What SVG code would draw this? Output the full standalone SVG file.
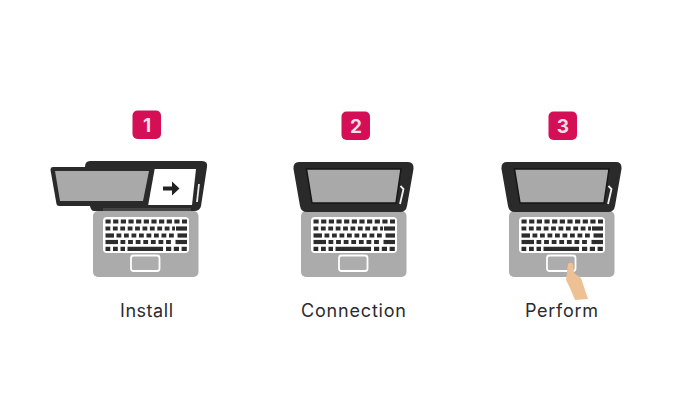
<svg xmlns="http://www.w3.org/2000/svg" xmlns:xlink="http://www.w3.org/1999/xlink" width="680" height="400" viewBox="0 0 680 400">
<style>
.lab{font-family:Inter,"Noto Sans",sans-serif;font-size:18px;fill:#2b2b2f;text-anchor:middle}
.num{font-family:Inter,"Liberation Sans",sans-serif;font-size:19px;font-weight:700;fill:#f6dfe6;text-anchor:middle}
.badge{fill:#d40f55}
.lid{fill:#2a2a2a}
.scr{fill:#a9a9a9;stroke:#161616;stroke-width:1.500}
.base{fill:#ababab}
.k{stroke:#2c2c2c;stroke-width:4.200;fill:none}
</style>
<defs>
<g id="lower">
<rect class="base" x="301" y="211" width="105.500" height="66" rx="5"/>
<rect x="311" y="217" width="86" height="36" rx="4" fill="#fff"/>
<line class="k" x1="313.500" y1="221.500" x2="395" y2="221.500" stroke-dasharray="5.200 2.450"/>
<path class="k" d="M313.500 228.500H383" stroke-dasharray="4.800 2.600"/><path class="k" d="M384 228.500H395"/>
<path class="k" d="M313.500 235.500H322"/><path class="k" d="M324.500 235.500H383" stroke-dasharray="4.800 2.700"/><path class="k" d="M385.500 235.500H395"/>
<path class="k" d="M313.500 242H326"/><path class="k" d="M328.500 242H381" stroke-dasharray="4.800 2.800"/><path class="k" d="M383.500 242H395"/>
<path class="k" d="M313.500 248.800H333" stroke-dasharray="4.800 2.700"/><path class="k" d="M335.500 248.800H371"/><path class="k" d="M374 248.800H395" stroke-dasharray="5.200 2.600"/>
<rect x="339" y="255.500" width="28.500" height="15.500" rx="2.500" fill="#adadad" stroke="#fff" stroke-width="1.800"/>
</g>
<path id="lidshape" class="lid" d="M299 162H408Q414 162 413.500 169L407 206Q406 212 400 212H307Q301 212 300 206L293.500 169Q293 162 299 162Z"/>
<path id="pen" d="M400.500 186L403.500 189L400 204" fill="none" stroke="#f2f2f2" stroke-width="1.800"/>
</defs>

<g id="connectors"/>

<g id="step-1">
<rect class="badge" x="132.500" y="110.500" width="28.500" height="28.500" rx="5"/>
<text class="num" x="147" y="131.500">1</text>
<use xlink:href="#lower" href="#lower" x="-208"/>
<path class="lid" d="M90 161H202Q208 161 207 167L201 206Q200 211 194 211H94Q91 211 90 206L85 167Q85 161 90 161Z"/>
<path d="M153 169H196L192 205H147Z" fill="#fff"/>
<path d="M163 186.500H172V181.500L179.500 188.500L172 195.500V190.500H163Z" fill="#222"/>
<path d="M199 184L197 202" stroke="#eee" stroke-width="1.800" fill="none"/>
<path class="lid" d="M53 167H155L148 206H59Q57 206 56.500 204L50.500 170Q50.500 167 53 167Z"/>
<path d="M55 171H149L143 201H60Z" fill="#a9a9a9"/>
<rect x="103" y="208" width="88" height="3" fill="#444"/>
<text class="lab" x="146.500" y="317" textLength="53" lengthAdjust="spacing">Install</text>
</g>

<g id="step-2">
<rect class="badge" x="341.500" y="111.500" width="28.500" height="28.500" rx="5"/>
<text class="num" x="356" y="132.500">2</text>
<use xlink:href="#lower" href="#lower"/>
<use xlink:href="#lidshape" href="#lidshape"/>
<path class="scr" d="M306.500 169H401L396 203H312Z"/>
<use xlink:href="#pen" href="#pen"/>
<text class="lab" x="353.500" y="317" textLength="105" lengthAdjust="spacing">Connection</text>
</g>

<g id="step-3">
<rect class="badge" x="548.500" y="111.500" width="28.500" height="28.500" rx="5"/>
<text class="num" x="563" y="132.500">3</text>
<use xlink:href="#lower" href="#lower" x="208"/>
<use xlink:href="#lidshape" href="#lidshape" x="208"/>
<path class="scr" d="M514.500 169H609L604 203H520Z"/>
<use xlink:href="#pen" href="#pen" x="208"/>
<path d="M568 264Q571 261 573 264L574 273L581 278L588 299L575 300L570 288L566 280Z" fill="#eec195"/>
<text class="lab" x="561.500" y="317" textLength="73" lengthAdjust="spacing">Perform</text>
</g>
</svg>
